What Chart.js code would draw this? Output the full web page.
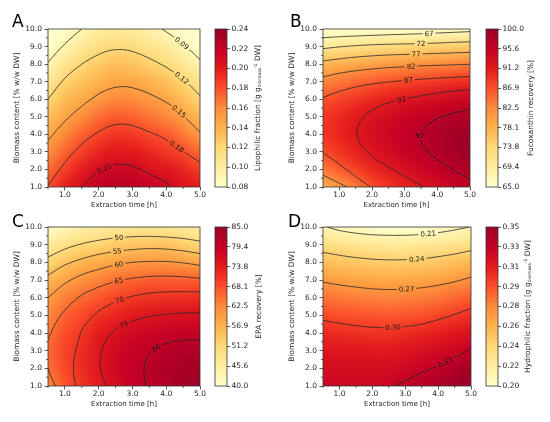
<!DOCTYPE html>
<html>
<head>
<meta charset="utf-8">
<script src="https://cdn.jsdelivr.net/npm/chart.js@4.4.1/dist/chart.umd.min.js"></script>
<style>
  html, body { margin: 0; padding: 0; background: #fff; }
  #fig { position: relative; width: 550px; height: 422px; overflow: hidden; background: #fff; }
  #fig canvas { position: absolute; }
</style>
</head>
<body>
<div id="fig"></div>
<script>
// grid of the response surfaces (columns = extraction time, rows = biomass content)
const timeGrid = [0.5, 1.0, 1.5, 2.0, 2.5, 3.0, 3.5, 4.0, 4.5, 5.0];
const biomassGrid = [1, 2, 3, 4, 5, 6, 7, 8, 9, 10];
const timeTicks = [1, 2, 3, 4, 5];
const biomassTicks = [1, 2, 3, 4, 5, 6, 7, 8, 9, 10];
const timeMinor = [0.5, 1.5, 2.5, 3.5, 4.5];
const biomassMinor = [1.5, 2.5, 3.5, 4.5, 5.5, 6.5, 7.5, 8.5, 9.5];

// A - lipophilic fraction
const lipoRange = [0.08, 0.24];
const lipoBarLabels = ['0.08', '0.10', '0.12', '0.14', '0.16', '0.18', '0.20', '0.22', '0.24'];
const lipoTitle = [['Lipophilic fraction [g g', 0], ['biomass', -1], ['-1', 1], [' DW]', 0]];
const lipoGrid = [
  [0.181, 0.198, 0.210, 0.222, 0.226, 0.224, 0.219, 0.214, 0.205, 0.200],
  [0.170, 0.186, 0.199, 0.209, 0.214, 0.214, 0.206, 0.204, 0.196, 0.186],
  [0.158, 0.173, 0.186, 0.196, 0.201, 0.200, 0.195, 0.189, 0.182, 0.171],
  [0.145, 0.161, 0.174, 0.183, 0.190, 0.188, 0.182, 0.177, 0.166, 0.152],
  [0.133, 0.147, 0.159, 0.170, 0.176, 0.174, 0.168, 0.162, 0.150, 0.137],
  [0.120, 0.136, 0.144, 0.154, 0.161, 0.160, 0.153, 0.147, 0.135, 0.122],
  [0.105, 0.123, 0.132, 0.140, 0.147, 0.146, 0.140, 0.133, 0.121, 0.108],
  [0.092, 0.108, 0.120, 0.127, 0.133, 0.131, 0.124, 0.117, 0.106, 0.094],
  [0.077, 0.093, 0.105, 0.114, 0.118, 0.116, 0.109, 0.103, 0.091, 0.079],
  [0.062, 0.078, 0.090, 0.100, 0.104, 0.102, 0.095, 0.088, 0.076, 0.064]
];
const lipoLines = [
  [0.09, [[0.5, 8.1], [0.75, 8.65], [1.0, 9.15], [1.25, 9.6], [1.5, 10.0]]],
  [0.09, [[3.87, 10.0], [4.15, 9.65], [4.46, 9.18], [4.75, 8.72], [5.0, 8.25]]],
  [0.12, [[0.5, 6.0], [1.0, 7.2], [1.5, 8.0], [2.0, 8.55], [2.34, 8.78], [2.7, 8.83], [3.0, 8.72], [3.4, 8.42], [4.02, 7.8], [4.46, 7.2], [4.75, 6.7], [5.0, 6.2]]],
  [0.15, [[0.5, 3.66], [1.0, 4.75], [1.5, 5.6], [2.0, 6.3], [2.34, 6.6], [2.7, 6.72], [3.0, 6.65], [3.4, 6.4], [4.02, 5.8], [4.38, 5.3], [4.7, 4.7], [5.0, 4.12]]],
  [0.18, [[0.5, 1.08], [1.0, 2.4], [1.5, 3.45], [2.0, 4.15], [2.34, 4.48], [2.65, 4.58], [3.0, 4.5], [3.4, 4.22], [3.92, 3.78], [4.31, 3.3], [4.65, 2.85], [5.0, 2.4]]],
  [0.21, [[1.5, 1.0], [1.75, 1.5], [2.0, 1.9], [2.3, 2.2], [2.6, 2.3], [2.9, 2.25], [3.3, 1.95], [3.7, 1.55], [4.02, 1.25], [4.16, 1.0]]]
];
const lipoLabels = [[0.09, 4.46, 9.18], [0.12, 4.46, 7.2], [0.15, 4.38, 5.3], [0.18, 4.31, 3.3], [0.21, 2.17, 2.05]];

// B - fucoxanthin recovery
const fucoRange = [65, 100];
const fucoBarLabels = ['65.0', '69.4', '73.8', '78.1', '82.5', '86.9', '91.2', '95.6', '100.0'];
const fucoTitle = [['Fucoxanthin recovery [%]', 0]];
const fucoGrid = [
  [78.7, 80.9, 83.9, 87.1, 89.0, 90.6, 92.0, 93.6, 95.0, 96.2],
  [83.9, 86.0, 88.0, 90.0, 91.6, 93.1, 94.5, 95.8, 97.0, 98.1],
  [87.2, 89.0, 90.6, 92.2, 93.6, 95.0, 96.3, 97.5, 98.6, 99.7],
  [88.9, 90.4, 91.8, 93.2, 94.5, 95.7, 96.8, 97.8, 98.8, 99.7],
  [88.7, 90.0, 91.3, 92.5, 93.6, 94.7, 95.6, 96.5, 97.3, 98.0],
  [86.7, 87.9, 89.0, 90.1, 91.0, 92.0, 92.8, 93.5, 94.2, 94.8],
  [83.0, 84.0, 85.0, 85.9, 86.8, 87.5, 88.2, 88.9, 89.4, 89.9],
  [77.4, 78.4, 79.2, 80.0, 80.8, 81.4, 82.0, 82.5, 83.0, 83.4],
  [70.1, 70.9, 71.7, 72.4, 73.0, 73.6, 74.1, 74.6, 74.9, 75.3],
  [61.0, 61.7, 62.4, 63.0, 63.6, 64.1, 64.5, 64.9, 65.3, 65.5]
];
const fucoLines = [
  [67, [[0.5, 9.5], [1.0, 9.56], [1.5, 9.6], [2.5, 9.67], [3.5, 9.73], [4.5, 9.81], [5.0, 9.85]]],
  [72, [[0.5, 8.88], [1.0, 8.98], [1.5, 9.05], [2.0, 9.1], [2.5, 9.13], [3.0, 9.15], [3.5, 9.17], [4.0, 9.2], [4.5, 9.24], [5.0, 9.27]]],
  [77, [[0.5, 8.18], [1.0, 8.3], [1.5, 8.4], [2.0, 8.47], [2.5, 8.52], [3.0, 8.55], [3.5, 8.58], [4.0, 8.61], [4.5, 8.64], [5.0, 8.67]]],
  [82, [[0.5, 7.27], [1.0, 7.48], [1.5, 7.62], [2.0, 7.72], [2.5, 7.8], [3.0, 7.85], [3.5, 7.9], [4.0, 7.93], [4.5, 7.96], [5.0, 7.99]]],
  [82, [[0.5, 1.68], [0.8, 1.4], [1.0, 1.22], [1.23, 1.0]]],
  [87, [[0.5, 6.1], [1.0, 6.45], [1.5, 6.7], [2.0, 6.87], [2.5, 6.98], [3.0, 7.07], [3.5, 7.14], [4.0, 7.2], [4.5, 7.25], [5.0, 7.3]]],
  [87, [[0.5, 2.95], [1.0, 2.3], [1.5, 1.6], [1.95, 1.0]]],
  [92, [[5.0, 6.55], [4.5, 6.46], [4.0, 6.35], [3.5, 6.2], [2.91, 5.98], [2.5, 5.8], [2.1, 5.5], [1.8, 5.1], [1.6, 4.6], [1.54, 4.15], [1.6, 3.6], [1.8, 3.1], [2.1, 2.6], [2.5, 2.15], [3.0, 1.6], [3.5, 1.1], [3.6, 1.0]]],
  [97, [[5.0, 5.4], [4.7, 5.3], [4.3, 5.1], [3.9, 4.8], [3.6, 4.35], [3.47, 3.85], [3.6, 3.25], [3.9, 2.7], [4.3, 2.2], [4.7, 1.75], [5.0, 1.45]]]
];
const fucoLabels = [[67, 3.75, 9.73], [72, 3.5, 9.17], [77, 3.35, 8.57], [82, 3.2, 7.87], [87, 3.12, 7.09], [92, 2.91, 5.98], [97, 3.47, 3.9]];

// C - EPA recovery
const epaRange = [40, 85];
const epaBarLabels = ['40.0', '45.6', '51.2', '56.9', '62.5', '68.1', '73.8', '79.4', '85.0'];
const epaTitle = [['EPA recovery [%]', 0]];
const epaGrid = [
  [62.8, 67.6, 71.0, 73.5, 76.8, 79.3, 80.5, 81.6, 83.2, 84.6],
  [65.0, 69.0, 71.8, 74.6, 77.6, 79.6, 80.9, 82.0, 83.0, 83.7],
  [66.0, 69.3, 71.7, 74.7, 77.3, 79.0, 79.9, 81.0, 81.7, 82.0],
  [64.4, 68.4, 70.6, 73.6, 75.6, 77.0, 78.0, 78.7, 79.2, 79.3],
  [62.6, 66.6, 68.6, 71.2, 72.6, 74.1, 75.0, 75.4, 75.6, 75.9],
  [60.0, 63.6, 65.6, 67.4, 69.2, 70.4, 71.2, 71.4, 71.5, 71.8],
  [56.2, 59.3, 61.6, 63.3, 64.9, 66.0, 66.6, 66.8, 66.7, 66.8],
  [51.6, 54.2, 56.5, 58.0, 59.3, 60.4, 60.9, 61.0, 60.0, 59.0],
  [46.3, 48.6, 50.9, 51.6, 53.2, 53.8, 54.3, 54.5, 53.0, 51.0],
  [40.5, 42.5, 44.8, 46.0, 46.5, 47.0, 47.2, 47.1, 46.4, 45.5]
];
const epaLines = [
  [50, [[0.5, 8.3], [1.0, 8.75], [1.5, 9.05], [2.0, 9.25], [2.5, 9.38], [3.0, 9.45], [3.5, 9.47], [4.0, 9.43], [4.5, 9.35], [5.0, 9.2]]],
  [55, [[0.5, 7.27], [1.0, 7.85], [1.5, 8.2], [2.0, 8.45], [2.5, 8.62], [3.0, 8.72], [3.5, 8.78], [4.0, 8.75], [4.5, 8.65], [5.0, 8.5]]],
  [60, [[0.5, 6.0], [1.0, 6.8], [1.5, 7.3], [2.0, 7.6], [2.5, 7.85], [3.0, 8.0], [3.5, 8.05], [4.0, 8.05], [4.5, 7.97], [5.0, 7.83]]],
  [65, [[0.5, 3.6], [0.7, 4.45], [1.0, 5.3], [1.5, 6.15], [2.0, 6.6], [2.5, 6.92], [3.0, 7.1], [3.5, 7.2], [4.0, 7.22], [4.5, 7.18], [5.0, 7.1]]],
  [65, [[0.5, 2.0], [0.6, 1.5], [0.72, 1.0]]],
  [70, [[1.32, 1.0], [1.26, 1.7], [1.27, 2.5], [1.36, 3.3], [1.5, 4.15], [1.75, 4.8], [2.0, 5.25], [2.5, 5.77], [3.0, 6.08], [3.5, 6.26], [4.0, 6.33], [4.5, 6.34], [5.0, 6.33]]],
  [75, [[2.22, 1.0], [2.07, 1.8], [2.05, 2.6], [2.15, 3.35], [2.35, 3.95], [2.55, 4.3], [2.75, 4.48], [3.0, 4.68], [3.5, 4.93], [4.0, 5.07], [4.5, 5.13], [5.0, 5.14]]],
  [80, [[3.4, 1.0], [3.35, 1.6], [3.36, 2.2], [3.45, 2.7], [3.64, 3.08], [3.9, 3.35], [4.2, 3.52], [4.6, 3.6], [5.0, 3.6]]]
];
const epaLabels = [[50, 2.6, 9.4], [55, 2.55, 8.63], [60, 2.6, 7.88], [65, 2.6, 6.96], [70, 2.62, 5.86], [75, 2.75, 4.48], [80, 3.7, 3.15]];

// D - hydrophilic fraction
const hydroRange = [0.20, 0.35];
const hydroBarLabels = ['0.20', '0.22', '0.24', '0.26', '0.28', '0.29', '0.31', '0.33', '0.35'];
const hydroTitle = [['Hydrophilic fraction [g g', 0], ['biomass', -1], ['-1', 1], [' DW]', 0]];
const hydroGrid = [
  [0.326, 0.326, 0.326, 0.326, 0.327, 0.333, 0.337, 0.342, 0.347, 0.352],
  [0.322, 0.322, 0.322, 0.322, 0.322, 0.326, 0.329, 0.333, 0.339, 0.345],
  [0.316, 0.315, 0.315, 0.314, 0.314, 0.317, 0.320, 0.323, 0.327, 0.332],
  [0.307, 0.306, 0.305, 0.304, 0.304, 0.306, 0.308, 0.311, 0.315, 0.319],
  [0.296, 0.294, 0.293, 0.292, 0.291, 0.292, 0.294, 0.297, 0.301, 0.305],
  [0.283, 0.281, 0.279, 0.278, 0.277, 0.278, 0.279, 0.282, 0.286, 0.290],
  [0.268, 0.265, 0.263, 0.262, 0.261, 0.262, 0.263, 0.265, 0.269, 0.273],
  [0.251, 0.248, 0.246, 0.244, 0.243, 0.243, 0.244, 0.246, 0.250, 0.254],
  [0.232, 0.228, 0.225, 0.223, 0.222, 0.222, 0.223, 0.225, 0.228, 0.232],
  [0.211, 0.207, 0.204, 0.201, 0.199, 0.199, 0.200, 0.203, 0.206, 0.210]
];
const hydroLines = [
  [0.21, [[0.62, 10.0], [1.0, 9.8], [1.5, 9.65], [2.0, 9.56], [2.5, 9.53], [3.0, 9.53], [3.5, 9.58], [4.0, 9.68], [4.5, 9.83], [4.95, 10.0]]],
  [0.24, [[0.5, 8.57], [1.0, 8.4], [1.5, 8.27], [2.0, 8.18], [2.5, 8.14], [3.0, 8.15], [3.5, 8.2], [4.0, 8.32], [4.5, 8.47], [5.0, 8.66]]],
  [0.27, [[0.5, 6.88], [1.0, 6.72], [1.5, 6.6], [2.0, 6.5], [2.5, 6.46], [3.0, 6.48], [3.5, 6.56], [4.0, 6.7], [4.5, 6.9], [5.0, 7.16]]],
  [0.30, [[0.5, 4.71], [1.0, 4.55], [1.5, 4.42], [2.0, 4.32], [2.5, 4.31], [3.0, 4.36], [3.5, 4.5], [4.0, 4.75], [4.5, 5.05], [5.0, 5.39]]],
  [0.33, [[2.68, 1.0], [3.0, 1.3], [3.5, 1.75], [4.0, 2.15], [4.5, 2.6], [5.0, 3.13]]]
];
const hydroLabels = [[0.21, 3.7, 9.62], [0.24, 3.35, 8.18], [0.27, 3.04, 6.49], [0.30, 2.63, 4.32], [0.33, 4.21, 2.34]];

const ylOrRd = ['#ffffcc', '#ffeda0', '#fed976', '#feb24c', '#fd8d3c', '#fc4e2a', '#e31a1c', '#c40026', '#9a0026'];
const FONT = '"DejaVu Sans", sans-serif';
const INK = '#262626';

function hexRgb(h) {
  return [1, 3, 5].map(i => parseInt(h.substr(i, 2), 16));
}
const stops = ylOrRd.map(hexRgb);

function cmap(t) {
  t = Math.max(0, Math.min(1, t));
  const pos = t * (stops.length - 1);
  const i = Math.min(stops.length - 2, Math.floor(pos));
  const f = pos - i;
  return stops[i].map((c, k) => Math.round(c + (stops[i + 1][k] - c) * f));
}

// small bitmap of the grid, one pixel per grid node
function gridImage(grid, range) {
  const ny = grid.length, nx = grid[0].length;
  const c = document.createElement('canvas');
  c.width = nx; c.height = ny;
  const g = c.getContext('2d');
  const img = g.createImageData(nx, ny);
  grid.forEach((row, j) => {
    row.forEach((v, i) => {
      const [r, gg, b] = cmap((v - range[0]) / (range[1] - range[0]));
      const k = ((ny - 1 - j) * nx + i) * 4;
      img.data[k] = r; img.data[k + 1] = gg; img.data[k + 2] = b; img.data[k + 3] = 255;
    });
  });
  g.putImageData(img, 0, 0);
  return c;
}

// point at arc length s along a pixel polyline
function pointAt(pts, cum, s) {
  s = Math.max(0, Math.min(cum[cum.length - 1], s));
  let i = 0;
  while (i < cum.length - 2 && cum[i + 1] < s) i++;
  const seg = cum[i + 1] - cum[i] || 1;
  const t = (s - cum[i]) / seg;
  return [pts[i][0] + (pts[i + 1][0] - pts[i][0]) * t, pts[i][1] + (pts[i + 1][1] - pts[i][1]) * t];
}

function labelBoxes(chart, p) {
  const { ctx, scales: { x, y } } = chart;
  ctx.font = '7px ' + FONT;
  return p.labels.map(([level, lx, ly]) => {
    const px = x.getPixelForValue(lx), py = y.getPixelForValue(ly);
    const text = p.fmt(level);
    const w = ctx.measureText(text).width + 4;
    // follow the same contour over the width of the label
    let best = Infinity, ang = 0;
    p.lines.filter(l => l[0] === level).forEach(([, pts]) => {
      const pp = pts.map(([a, b]) => [x.getPixelForValue(a), y.getPixelForValue(b)]);
      const cum = [0];
      for (let i = 1; i < pp.length; i++) cum.push(cum[i - 1] + Math.hypot(pp[i][0] - pp[i - 1][0], pp[i][1] - pp[i - 1][1]));
      for (let i = 0; i < pp.length - 1; i++) {
        const dx = pp[i + 1][0] - pp[i][0], dy = pp[i + 1][1] - pp[i][1];
        const len2 = dx * dx + dy * dy || 1;
        const t = Math.max(0, Math.min(1, ((px - pp[i][0]) * dx + (py - pp[i][1]) * dy) / len2));
        const d = Math.hypot(pp[i][0] + t * dx - px, pp[i][1] + t * dy - py);
        if (d < best) {
          best = d;
          const s0 = cum[i] + t * Math.sqrt(len2);
          const p1 = pointAt(pp, cum, s0 - w / 2), p2 = pointAt(pp, cum, s0 + w / 2);
          ang = Math.atan2(p2[1] - p1[1], p2[0] - p1[0]);
        }
      }
    });
    if (ang > Math.PI / 2) ang -= Math.PI;
    if (ang < -Math.PI / 2) ang += Math.PI;
    if (Math.abs(ang) > Math.PI / 3) ang = 0;
    return { text, px, py, ang, w, h: 8 };
  });
}

function surfacePlugin(p) {
  let img = null;
  return {
    id: 'surface' + p.letter,
    beforeDatasetsDraw(chart) {
      const { ctx, chartArea: a, scales: { x, y } } = chart;
      if (!img) img = gridImage(p.grid, p.range);
      const nx = timeGrid.length, ny = biomassGrid.length;
      const x0 = x.getPixelForValue(timeGrid[0]);
      const cw = (x.getPixelForValue(timeGrid[nx - 1]) - x0) / (nx - 1);
      const yTop = y.getPixelForValue(biomassGrid[ny - 1]);
      const ch = (y.getPixelForValue(biomassGrid[0]) - yTop) / (ny - 1);
      ctx.save();
      ctx.beginPath();
      ctx.rect(a.left, a.top, a.width, a.height);
      ctx.clip();
      ctx.imageSmoothingEnabled = true;
      ctx.imageSmoothingQuality = 'high';
      ctx.drawImage(img, x0 - cw / 2, yTop - ch / 2, cw * nx, ch * ny);
      ctx.restore();

      // leave gaps in the contour lines where the labels go
      const boxes = labelBoxes(chart, p);
      ctx.save();
      ctx.beginPath();
      ctx.rect(a.left, a.top, a.width, a.height);
      boxes.forEach(b => {
        const c = Math.cos(b.ang), s = Math.sin(b.ang);
        const pts = [[-b.w / 2, -b.h / 2], [b.w / 2, -b.h / 2], [b.w / 2, b.h / 2], [-b.w / 2, b.h / 2]];
        pts.forEach(([u, v], i) => {
          const X = b.px + u * c - v * s, Y = b.py + u * s + v * c;
          if (i === 0) ctx.moveTo(X, Y); else ctx.lineTo(X, Y);
        });
        ctx.closePath();
      });
      ctx.clip('evenodd');
    },
    afterDatasetsDraw(chart) {
      const { ctx, chartArea: a, scales: { x, y } } = chart;
      ctx.restore();
      const boxes = labelBoxes(chart, p);
      ctx.save();
      ctx.fillStyle = '#1a1a1a';
      ctx.font = '7px ' + FONT;
      ctx.textAlign = 'center';
      ctx.textBaseline = 'middle';
      boxes.forEach(b => {
        ctx.save();
        ctx.translate(b.px, b.py);
        ctx.rotate(b.ang);
        ctx.fillText(b.text, 0, 0.5);
        ctx.restore();
      });
      ctx.strokeStyle = '#333';
      ctx.lineWidth = 0.8;
      ctx.strokeRect(a.left, a.top, a.width, a.height);
      ctx.beginPath();
      timeMinor.forEach(v => {
        const px = x.getPixelForValue(v);
        ctx.moveTo(px, a.bottom); ctx.lineTo(px, a.bottom + 2);
      });
      biomassMinor.forEach(v => {
        const py = y.getPixelForValue(v);
        ctx.moveTo(a.left, py); ctx.lineTo(a.left - 2, py);
      });
      ctx.stroke();
      ctx.fillStyle = '#000';
      ctx.font = '17px ' + FONT;
      ctx.textAlign = 'left';
      ctx.textBaseline = 'alphabetic';
      ctx.fillText(p.letter, p.letterX, p.letterY);
      ctx.restore();
    }
  };
}

function colorbarPlugin(p) {
  return {
    id: 'colorbar' + p.letter,
    beforeDatasetsDraw(chart) {
      const { ctx, chartArea: a, scales: { y } } = chart;
      const g = ctx.createLinearGradient(0, y.getPixelForValue(p.range[0]), 0, y.getPixelForValue(p.range[1]));
      ylOrRd.forEach((c, i) => g.addColorStop(i / (ylOrRd.length - 1), c));
      ctx.save();
      ctx.fillStyle = g;
      ctx.fillRect(a.left, a.top, a.width, a.height);
      ctx.strokeStyle = '#333';
      ctx.lineWidth = 0.8;
      ctx.strokeRect(a.left, a.top, a.width, a.height);
      ctx.restore();
    },
    afterDraw(chart) {
      const { ctx, chartArea: a } = chart;
      const sizes = { 0: 7.5, '-1': 4.6, 1: 4.6 };
      const shift = { 0: 0, '-1': 1.6, 1: -3.2 };
      ctx.save();
      ctx.fillStyle = INK;
      ctx.textBaseline = 'alphabetic';
      let total = 0;
      p.title.forEach(([t, k]) => { ctx.font = sizes[k] + 'px ' + FONT; total += ctx.measureText(t).width; });
      ctx.translate(p.titleX, (a.top + a.bottom) / 2);
      ctx.rotate(-Math.PI / 2);
      let cx = -total / 2;
      p.title.forEach(([t, k]) => {
        ctx.font = sizes[k] + 'px ' + FONT;
        ctx.fillText(t, cx, 2.7 + shift[k]);
        cx += ctx.measureText(t).width;
      });
      ctx.restore();
    }
  };
}

function makeCanvas(left, top, w, h) {
  const c = document.createElement('canvas');
  c.width = w; c.height = h;
  c.style.left = left + 'px';
  c.style.top = top + 'px';
  c.style.width = w + 'px';
  c.style.height = h + 'px';
  document.getElementById('fig').appendChild(c);
  return c;
}

const tickFont = { family: FONT, size: 7.5, lineHeight: 1 };

function makePanel(p) {
  const main = makeCanvas(p.left, p.top, 210, p.h);
  new Chart(main, {
    type: 'scatter',
    data: {
      datasets: p.lines.map(([level, pts]) => ({
        label: String(level),
        data: pts.map(([x, y]) => ({ x, y })),
        showLine: true,
        borderColor: '#2a2a2a',
        borderWidth: 0.8,
        pointRadius: 0,
        tension: 0.3,
        fill: false
      }))
    },
    options: {
      responsive: false,
      animation: false,
      events: [],
      layout: { padding: { left: 0, top: p.padTop, right: p.padRight, bottom: 0 } },
      plugins: { legend: { display: false }, tooltip: { enabled: false } },
      scales: {
        x: {
          type: 'linear', min: 0.5, max: 5.0,
          afterBuildTicks: s => { s.ticks = timeTicks.map(v => ({ value: v })); },
          afterFit: s => { s.height = 24; },
          ticks: { callback: v => v.toFixed(1), font: tickFont, color: INK, padding: 0.5, maxRotation: 0, autoSkip: false },
          grid: { drawOnChartArea: false, tickLength: 3.5, color: '#333', lineWidth: 0.8 },
          border: { display: false },
          title: { display: true, text: 'Extraction time [h]', color: INK, font: { family: FONT, size: 7 }, padding: { top: 0, bottom: 1.2 } }
        },
        y: {
          type: 'linear', min: 1, max: 10,
          afterBuildTicks: s => { s.ticks = biomassTicks.map(v => ({ value: v })); },
          afterFit: s => { s.width = 48; },
          ticks: { callback: v => v.toFixed(1), font: tickFont, color: INK, padding: 2.5, autoSkip: false },
          grid: { drawOnChartArea: false, tickLength: 3.5, color: '#333', lineWidth: 0.8 },
          border: { display: false },
          title: { display: true, text: 'Biomass content [% w/w DW]', color: INK, font: { family: FONT, size: 7.5 }, padding: { top: 12.5, bottom: 0 } }
        }
      }
    },
    plugins: [surfacePlugin(p)]
  });

  const cb = makeCanvas(p.cbLeft, p.top, p.cbW, p.h);
  new Chart(cb, {
    type: 'scatter',
    data: { datasets: [] },
    options: {
      responsive: false,
      animation: false,
      events: [],
      layout: { padding: { left: 10, top: p.padTop, right: 0, bottom: 24 } },
      plugins: { legend: { display: false }, tooltip: { enabled: false } },
      scales: {
        x: { display: false, min: 0, max: 1 },
        y: {
          type: 'linear', position: 'right', min: p.range[0], max: p.range[1],
          afterBuildTicks: s => {
            s.ticks = p.barLabels.map((_, i) => ({ value: p.range[0] + i * (p.range[1] - p.range[0]) / (p.barLabels.length - 1) }));
          },
          afterFit: s => { s.width = p.cbW - 22; },
          ticks: { callback: (v, i) => p.barLabels[i], font: tickFont, color: INK, padding: 1.5, autoSkip: false },
          grid: { drawOnChartArea: false, tickLength: 3, color: '#333', lineWidth: 0.8 },
          border: { display: false }
        }
      }
    },
    plugins: [colorbarPlugin(p)]
  });
}

const fmt2 = v => v.toFixed(2);
const fmt0 = v => String(v);

makePanel({ letter: 'A', left: 0, top: 0, h: 211, padTop: 29, padRight: 10, cbLeft: 205, cbW: 70, titleX: 52, letterX: 12, letterY: 27,
  grid: lipoGrid, range: lipoRange, lines: lipoLines, labels: lipoLabels, fmt: fmt2, barLabels: lipoBarLabels, title: lipoTitle });
makePanel({ letter: 'B', left: 275, top: 0, h: 211, padTop: 29, padRight: 15, cbLeft: 476, cbW: 74, titleX: 54, letterX: 15, letterY: 27,
  grid: fucoGrid, range: fucoRange, lines: fucoLines, labels: fucoLabels, fmt: fmt0, barLabels: fucoBarLabels, title: fucoTitle });
makePanel({ letter: 'C', left: 0, top: 211, h: 199, padTop: 16, padRight: 10, cbLeft: 205, cbW: 70, titleX: 53, letterX: 12, letterY: 16,
  grid: epaGrid, range: epaRange, lines: epaLines, labels: epaLabels, fmt: fmt0, barLabels: epaBarLabels, title: epaTitle });
makePanel({ letter: 'D', left: 275, top: 211, h: 199, padTop: 16, padRight: 14, cbLeft: 476, cbW: 74, titleX: 51, letterX: 13, letterY: 16,
  grid: hydroGrid, range: hydroRange, lines: hydroLines, labels: hydroLabels, fmt: fmt2, barLabels: hydroBarLabels, title: hydroTitle });
</script>
</body>
</html>
